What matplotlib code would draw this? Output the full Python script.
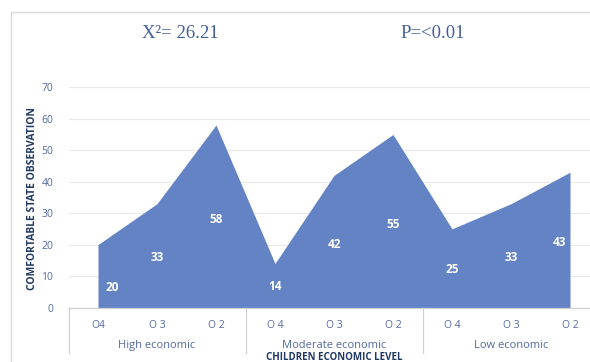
import numpy as np
import matplotlib
matplotlib.use("Agg")
import matplotlib.pyplot as plt
from matplotlib.patches import Rectangle
import matplotlib.transforms as mtransforms

# Daten
groups = ["High economic", "Moderate economic", "Low economic"]
tick_labels = ["O4", "O 3", "O 2", "O 4", "O 3", "O 2", "O 4", "O 3", "O 2"]
values = [20, 33, 58, 14, 42, 55, 25, 33, 43]
chi_text = "X\u00b2= 26.21"
p_text = "P=<0.01"

area_color = "#6383c5"
tick_color = "#5469a0"
title_color = "#203864"
stat_color = "#44609a"

plt.rcParams["font.family"] = ["Open Sans", "DejaVu Sans"]

W, H = 590, 362
fig = plt.figure(figsize=(W / 100, H / 100), dpi=100)

# Achsen in Pixelkoordinaten
left, right, top, bottom = 68.5, 599.5, 87.3, 307.5
ax = fig.add_axes([left / W, 1 - bottom / H, (right - left) / W, (bottom - top) / H])

x = np.arange(len(values))
ax.fill_between(x, values, 0, color=area_color, lw=0, zorder=2)

ax.set_xlim(-0.5, len(values) - 0.5)
ax.set_ylim(0, 70)
ax.set_yticks(range(0, 80, 10))
ax.yaxis.grid(True, color="#e8e8e8", lw=0.8, zorder=0)
ax.set_axisbelow(True)
for s in ["top", "right", "left"]:
    ax.spines[s].set_visible(False)
ax.spines["bottom"].set_color("#d0d0d0")
ax.spines["bottom"].set_linewidth(0.9)
ax.spines["bottom"].set_zorder(3)

ax.tick_params(axis="y", length=0, pad=11, labelsize=7.5, labelcolor=tick_color)
ax.set_xticks(x)
ax.set_xticklabels(tick_labels)
ax.tick_params(axis="x", length=0, pad=9, labelsize=7.5, labelcolor=tick_color)

# Datenbeschriftungen (etwa in der Mitte der Fläche)
n = len(values)
for i, v in enumerate(values):
    dx, dy = 0, 0
    if i == 0:
        dx, dy = 14, -10
    elif i == n - 1:
        dx = -11
    ax.annotate(str(v), (x[i], v * 0.48), xytext=(dx, dy), textcoords="offset pixels",
                ha="center", va="center", color="white", fontsize=8.5,
                fontweight="bold", zorder=4)

# Mehrstufige Kategorieachse
trans = mtransforms.blended_transform_factory(ax.transData, ax.transAxes)
ax_h = bottom - top
sep_y = -(353 - bottom) / ax_h
for k in range(len(groups) + 1):
    xs = k * 3 - 0.5
    ax.plot([xs, xs], [0, sep_y], transform=trans, color="#d0d0d0", lw=0.9, clip_on=False)
for k, g in enumerate(groups):
    ax.text(k * 3 + 1, -(345.5 - bottom) / ax_h, g, transform=trans, ha="center", va="center",
            fontsize=8, color=tick_color)

ax.text(4, -(357.5 - bottom) / ax_h, "CHILDREN ECONOMIC LEVEL", transform=trans,
        ha="center", va="center", fontsize=7, fontweight="bold", color=title_color,
        family=["Liberation Sans Narrow", "Open Sans", "DejaVu Sans"])

fig.text(33 / W, 1 - 199 / H, "COMFORTABLE STATE OBSERVATION", rotation=90,
         ha="center", va="center", fontsize=7.5, fontweight="bold", color=title_color,
         family=["Liberation Sans Narrow", "Open Sans", "DejaVu Sans"])

# Statistik oben
fig.text(180 / W, 1 - 34 / H, chi_text, ha="center", va="center", fontsize=13.5,
         color=stat_color, family=["Liberation Serif", "DejaVu Serif"])
fig.text(433 / W, 1 - 34 / H, p_text, ha="center", va="center", fontsize=13.5,
         color=stat_color, family=["Liberation Serif", "DejaVu Serif"])

# Rahmen
fig.add_artist(Rectangle((11 / W, -0.1), 1.2, 1 - 11.7 / H + 0.1, transform=fig.transFigure,
                         fill=False, ec="#d9d9d9", lw=1))

fig.savefig("out.png", dpi=100)
